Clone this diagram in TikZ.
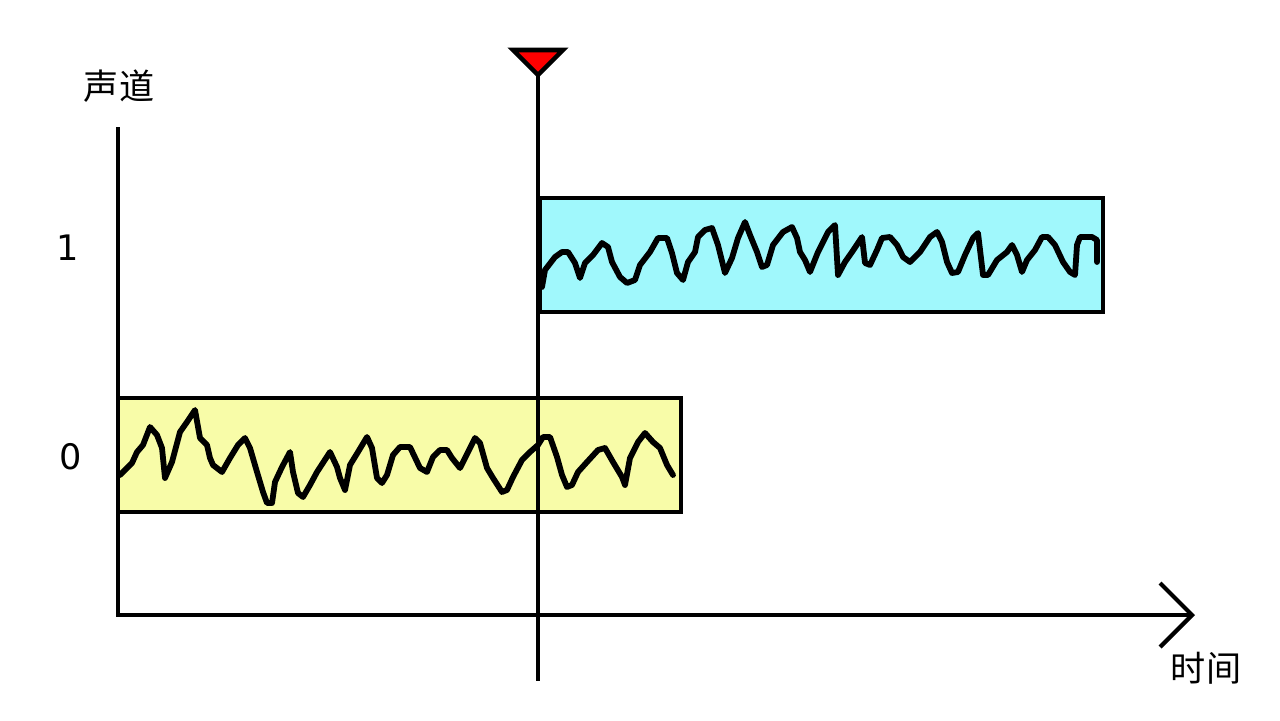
\documentclass[tikz,border=0pt]{standalone}
\usepackage{fontspec}
\setmainfont{DejaVu Sans}
\newfontfamily\cjk{Noto Sans CJK SC}
\definecolor{chanyellow}{RGB}{248,252,168}
\definecolor{chanblue}{RGB}{160,248,252}

\begin{document}
\begin{tikzpicture}[x=0.02cm,y=-0.02cm,
    axis/.style={line width=2.4pt},
    chanbox/.style={line width=2.4pt},
    wave/.style={line width=3.3pt,line join=round,line cap=round},
    lbl/.style={font=\fontsize{20}{24}\selectfont}]
            \useasboundingbox (0,0) rectangle (1280,720);

            \coordinate (o) at (118,615);
            \coordinate (ytop) at (118,127);
            \coordinate (xend) at (1192,615);
            \coordinate (ctop) at (538,75);
            \coordinate (cbot) at (538,681);

            % channel 0
            \filldraw[chanbox,fill=chanyellow] (118,398) rectangle (681,512);
            \draw[wave] plot coordinates {(120,475) (132,463) (137,452) (143,445) (150,427)
                (157,435) (162,448) (165,478) (172,462) (180,432) (187,422) (195,410)
                (200,438) (207,445) (210,458) (213,465) (222,472) (230,458) (238,445)
                (245,438) (250,448) (257,472) (263,492) (267,503) (272,503) (275,482)
                (282,467) (290,452) (293,472) (298,493) (303,497) (310,485) (317,472)
                (330,452) (337,467) (340,478) (345,490) (350,465) (358,452) (367,437)
                (372,448) (377,478) (382,483) (387,475) (393,455) (400,447) (410,447)
                (420,468) (427,472) (433,457) (440,450) (447,450) (452,458) (460,468)
                (468,452) (475,438) (480,443) (487,468) (493,478) (502,492) (507,490)
                (513,477) (522,460) (530,452) (538,445) (543,437) (550,437) (557,457)
                (562,475) (567,487) (572,485) (578,472) (587,462) (598,450) (605,448)
                (613,462) (622,477) (625,485) (630,458) (638,442) (645,433) (653,442)
                (660,448) (667,465) (673,475)};

            % channel 1
            \filldraw[chanbox,fill=chanblue] (540,198) rectangle (1103,312);
            \draw[wave] plot coordinates {(542,287) (545,270) (555,257) (562,252) (568,252)
                (575,263) (580,278) (585,263) (593,255) (602,243) (608,247) (612,262)
                (620,277) (627,283) (635,280) (640,265) (650,252) (658,238) (667,238)
                (672,253) (677,273) (683,280) (688,262) (695,252) (698,237) (705,230)
                (712,228) (718,245) (725,273) (732,258) (738,238) (745,222) (750,235)
                (757,252) (762,267) (767,265) (773,245) (783,232) (792,227) (797,238)
                (800,252) (805,260) (810,272) (818,252) (828,232) (835,225) (838,275)
                (845,262) (852,252) (862,237) (865,263) (870,265) (877,250) (882,238)
                (890,237) (897,245) (903,257) (910,262) (920,252) (930,237) (937,232)
                (942,242) (947,262) (952,273) (958,272) (965,255) (973,238) (978,233)
                (983,275) (988,275) (997,260) (1007,252) (1012,245) (1017,255) (1022,272)
                (1027,260) (1035,250) (1042,237) (1048,237) (1055,245) (1063,262)
                (1070,272) (1075,275) (1077,245) (1080,237) (1092,237) (1097,240) (1097,262)};

            % axes
            \draw[axis] (ytop)--(o)--(xend);
            \draw[axis] (1160,583)--(xend)--(1160,647);

            % cursor
            \draw[axis] (ctop)--(cbot);
            \filldraw[line width=2.6pt,fill=red] (513,50)--(563,50)--(ctop)--cycle;

            \node[lbl] (ch1) at (68,248) {1};
            \node[lbl] (ch0) at (71,457) {0};
            \node[lbl,font=\cjk\fontsize{20}{24}\selectfont] (ylab) at (119,86) {声道};
            \node[lbl,font=\cjk\fontsize{20}{24}\selectfont] (xlab) at (1206,668) {时间};
        \end{tikzpicture}
\end{document}
